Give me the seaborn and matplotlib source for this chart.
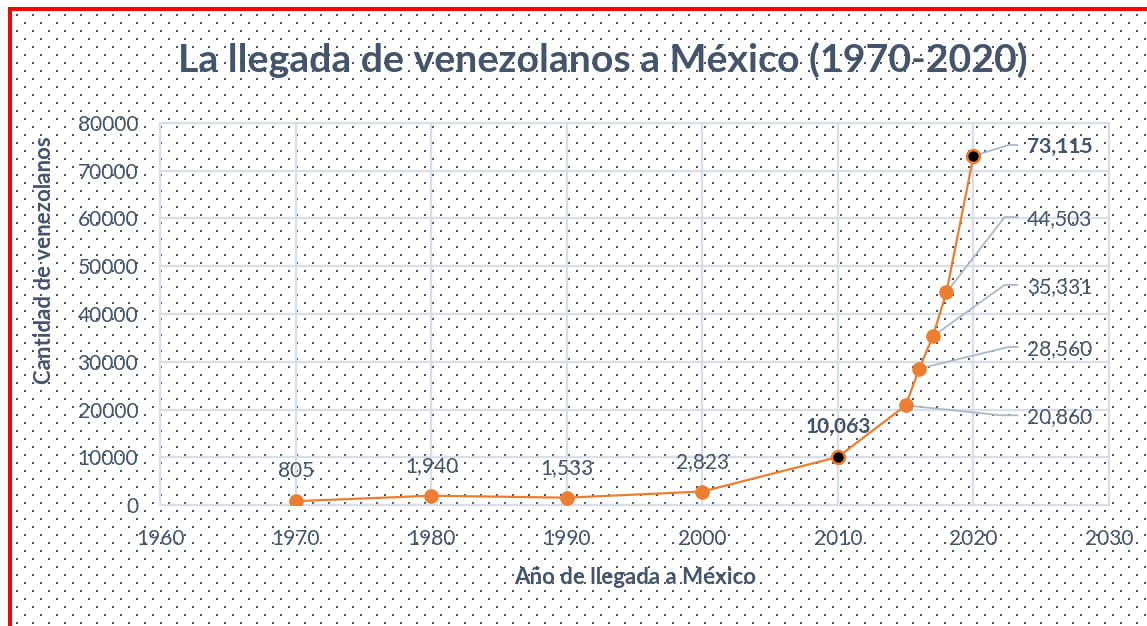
import numpy as np
import pandas as pd
import matplotlib
matplotlib.use("Agg")
import matplotlib.pyplot as plt
from matplotlib.patches import Rectangle
import seaborn as sns

# ---------------- data ----------------
years = [1970, 1980, 1990, 2000, 2010, 2015, 2016, 2017, 2018, 2020]
counts = [805, 1940, 1533, 2823, 10063, 20860, 28560, 35331, 44503, 73115]
highlight_years = [2010, 2020]
bold_label_years = [2010, 2020]
x_ticks = [1960, 1970, 1980, 1990, 2000, 2010, 2020, 2030]
y_ticks = [0, 10000, 20000, 30000, 40000, 50000, 60000, 70000, 80000]
title = "La llegada de venezolanos a México (1970-2020)"
x_label = "Año de llegada a México"
y_label = "Cantidad de venezolanos"

# ---------------- style ----------------
ORANGE = "#ed7d31"
TEXT = "#44546a"
GRID = "#d9dee7"
LEADER = "#adb9ca"
W, H = 1147, 626

sns.set_theme(style="white")
plt.rcParams["font.family"] = ["Lato", "DejaVu Sans"]

fig = plt.figure(figsize=(W / 100, H / 100), dpi=100)
fig.patch.set_facecolor("white")

# background: dotted pattern + red border
bg = fig.add_axes([0, 0, 1, 1], zorder=-5)
bg.set_xlim(0, W)
bg.set_ylim(H, 0)
bg.axis("off")
row_ys = np.arange(14.7, H, 8.0)
px, py = [], []
for i, ry in enumerate(row_ys):
    start = 16.7 if i % 2 == 0 else 24.7
    xs = np.arange(start, W, 16.0)
    px.extend(xs)
    py.extend([ry] * len(xs))
bg.scatter(px, py, s=2.2, marker="s", color=TEXT, linewidths=0)
bg.add_patch(Rectangle((7.5, 7.3), W, 3.4, color="#ff0000", lw=0))
bg.add_patch(Rectangle((7.5, 7.3), 4.8, H, color="#ff0000", lw=0))

# main axes
ax_l, ax_r, ax_t, ax_b = 160.5, 1109, 123, 505
ax = fig.add_axes([ax_l / W, 1 - ax_b / H, (ax_r - ax_l) / W, (ax_b - ax_t) / H])
ax.set_facecolor("none")

df = pd.DataFrame({"year": years, "count": counts})
df["hl"] = df["year"].isin(highlight_years)

sns.lineplot(data=df, x="year", y="count", color=ORANGE, linewidth=1.6,
             marker="o", markersize=10.5, markeredgewidth=0, ax=ax, zorder=3)
sns.scatterplot(data=df[df["hl"]], x="year", y="count", color="black",
                edgecolor=ORANGE, linewidth=1.8, s=85, ax=ax, zorder=4)

ax.set_xlim(1960, 2030)
ax.set_ylim(0, 80000)
ax.set_xticks(x_ticks)
ax.set_yticks(y_ticks)
ax.set_xticklabels([str(t) for t in x_ticks])
ax.set_yticklabels([str(t) for t in y_ticks])
ax.grid(True, color=GRID, linewidth=1.7)
ax.set_axisbelow(True)
for gl in ax.get_xgridlines() + ax.get_ygridlines():
    gl.set_clip_on(False)
for s in ax.spines.values():
    s.set_visible(False)
ax.tick_params(axis="both", length=0, labelsize=15, labelcolor=TEXT)
ax.tick_params(axis="y", pad=16)
ax.tick_params(axis="x", pad=17)
ax.set_xlabel("")
ax.set_ylabel("")

# data labels
n_above = 5
for yr, c in zip(years[:n_above], counts[:n_above]):
    ax.annotate(f"{c:,}", (yr, c), xytext=(0, 21.5), textcoords="offset points",
                ha="center", va="center", fontsize=15, color=TEXT,
                fontweight="bold" if yr in bold_label_years else "normal", zorder=5)

# leader-line labels (layout positions)
label_text_x = 2023.95
elbow_x = [2022.0, 2022.6, 2022.3, 2022.3, 2022.6]
end_x = 2023.3
label_y = [18800, 33100, 46100, 60300, 75400]
for (yr, c), ex, ly in zip(list(zip(years, counts))[n_above:], elbow_x, label_y):
    ax.plot([yr, ex, end_x], [c, ly, ly], color=LEADER, linewidth=1.3,
            zorder=2.5, solid_capstyle="butt")
    ax.text(label_text_x, ly, f"{c:,}", ha="left", va="center_baseline",
            fontsize=15, color=TEXT,
            fontweight="bold" if yr in bold_label_years else "normal", zorder=5)

# titles
fig.text(603 / W, 1 - 60 / H, title, ha="center", va="center",
         fontsize=28.3, fontweight="bold", color=TEXT)
fig.text(635 / W, 1 - 577 / H, x_label, ha="center", va="center",
         fontsize=16, fontweight="bold", color=TEXT)
fig.text(45 / W, 1 - 260 / H, y_label, ha="center", va="center", rotation=90,
         fontsize=16, fontweight="bold", color=TEXT)

fig.savefig("out.png", dpi=100)
